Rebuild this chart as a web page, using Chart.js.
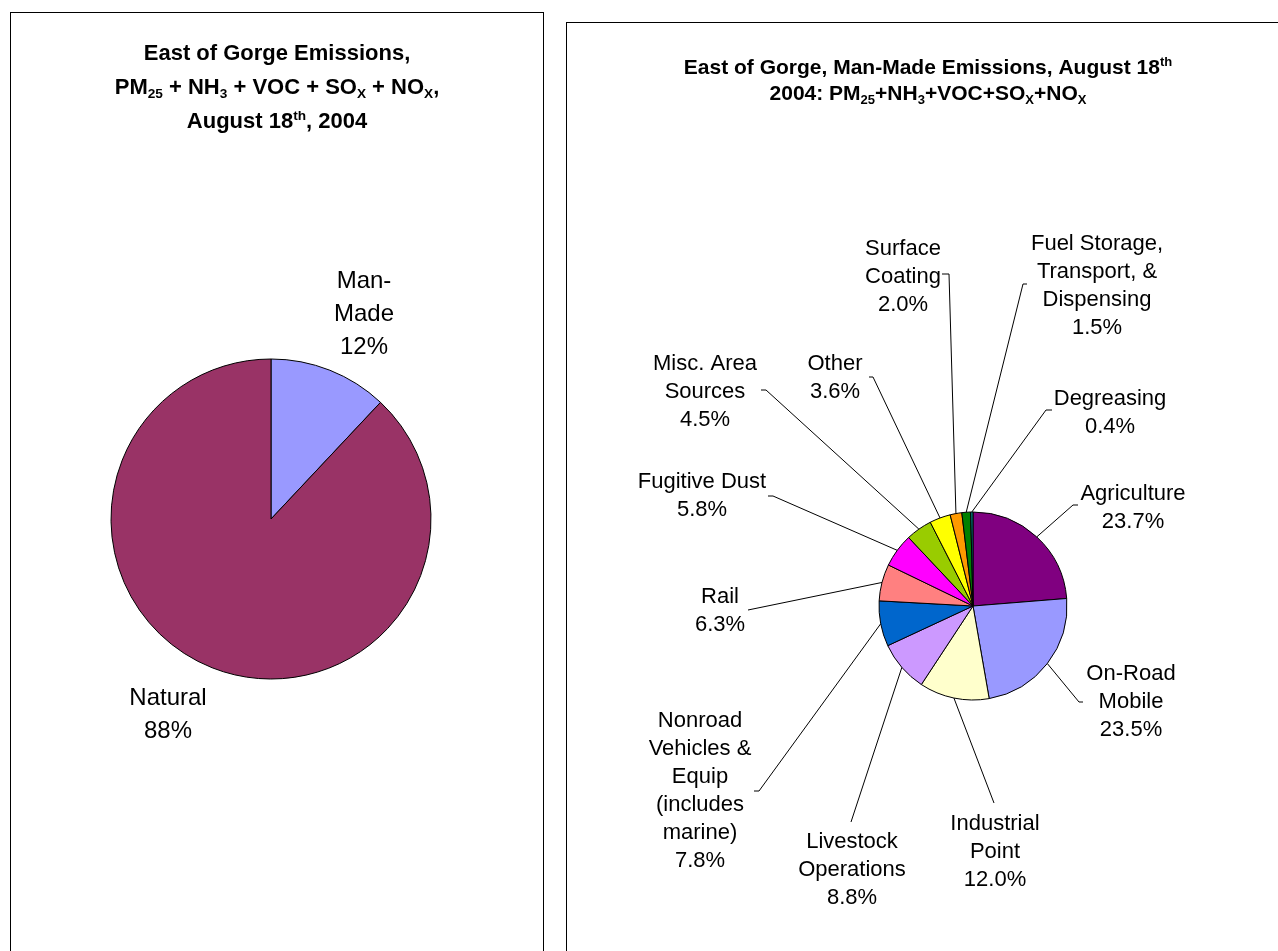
<!DOCTYPE html>
<html lang="en">
<head>
<meta charset="UTF-8">
<title>East of Gorge Emissions, August 18th 2004</title>
<style>
  body { margin: 0; background: #fff; overflow: hidden; }
  .panel { position: absolute; border: 1px solid #000; background: #fff; }
  #leftPanel { left: 10px; top: 12px; width: 532px; height: 960px; }
  #rightPanel { left: 566px; top: 22px; width: 740px; height: 960px; }
  canvas { position: absolute; left: 0; top: 0; }
</style>
</head>
<body>
<div class="panel" id="leftPanel"><canvas id="leftChart" width="532" height="940"></canvas></div>
<div class="panel" id="rightPanel"><canvas id="rightChart" width="711" height="930"></canvas></div>

<script src="https://cdn.jsdelivr.net/npm/chart.js"></script>
<script>
// ---- data ----
const totalCategories = [['Man-', 'Made'], ['Natural']];
const totalShares = [12, 88];
const totalColors = ['#9999FF', '#993366'];

const manMadeCategories = [
  ['Agriculture'],
  ['On-Road', 'Mobile'],
  ['Industrial', 'Point'],
  ['Livestock', 'Operations'],
  ['Nonroad', 'Vehicles &', 'Equip', '(includes', 'marine)'],
  ['Rail'],
  ['Fugitive Dust'],
  ['Misc. Area', 'Sources'],
  ['Other'],
  ['Surface', 'Coating'],
  ['Fuel Storage,', 'Transport, &', 'Dispensing'],
  ['Degreasing']
];
const manMadeShares = [23.7, 23.5, 12.0, 8.8, 7.8, 6.3, 5.8, 4.5, 3.6, 2.0, 1.5, 0.4];
const manMadeColors = ['#800080', '#9999FF', '#FFFFCC', '#CC99FF', '#0066CC', '#FF8080',
                       '#FF00FF', '#99CC00', '#FFFF00', '#FF9900', '#008000', '#008080'];

// titles: [text, 'sub' | 'sup']
const leftTitle = [
  [['East of Gorge Emissions,']],
  [['PM'], ['25', 'sub'], [' + NH'], ['3', 'sub'], [' + VOC + SO'], ['X', 'sub'], [' + NO'], ['X', 'sub'], [',']],
  [['August 18'], ['th', 'sup'], [', 2004']]
];
const rightTitle = [
  [['East of Gorge, Man-Made Emissions, August 18'], ['th', 'sup']],
  [['2004: PM'], ['25', 'sub'], ['+NH'], ['3', 'sub'], ['+VOC+SO'], ['X', 'sub'], ['+NO'], ['X', 'sub']]
];

// ---- layout (page coordinates) ----
const FONT = '"Liberation Sans", Arial, sans-serif';

const leftLayout = {
  offset: { x: 11, y: 13 },
  center: { x: 271, y: 519 }, radius: 160,
  title: { x: 277, y: [60, 94, 128], size: 22 },
  labelSize: 24, lineHeight: 33,
  labels: [
    { x: 364, y: 288 },
    { x: 168, y: 705 }
  ],
  fmt: v => v + '%'
};

const rightLayout = {
  offset: { x: 567, y: 23 },
  center: { x: 973, y: 606 }, radius: 94,
  title: { x: 928, y: [74, 100], size: 21 },
  labelSize: 22, lineHeight: 28,
  labels: [
    { x: 1133, y: 500, lead: [1078, 505, 1073] },
    { x: 1131, y: 680, lead: [1083, 702, 1079] },
    { x: 995, y: 830, lead: [994, 803, 994] },
    { x: 852, y: 848, lead: [851, 822, 851] },
    { x: 700, y: 727, lead: [754, 791, 759] },
    { x: 720, y: 603, lead: [748, 610, 748] },
    { x: 702, y: 488, lead: [768, 496, 773] },
    { x: 705, y: 370, lead: [761, 390, 766] },
    { x: 835, y: 370, lead: [869, 377, 873] },
    { x: 903, y: 255, lead: [942, 274, 949] },
    { x: 1097, y: 250, lead: [1027, 284, 1023] },
    { x: 1110, y: 405, lead: [1052, 410, 1046] }
  ],
  fmt: v => v.toFixed(1) + '%'
};

function richWidth(ctx, segs, size) {
  let w = 0;
  segs.forEach(s => {
    ctx.font = 'bold ' + (s[1] ? size * 0.62 : size) + 'px ' + FONT;
    w += ctx.measureText(s[0]).width;
  });
  return w;
}

function drawRich(ctx, segs, cx, y, size) {
  let x = cx - richWidth(ctx, segs, size) / 2;
  ctx.textAlign = 'left';
  segs.forEach(s => {
    const small = !!s[1];
    ctx.font = 'bold ' + (small ? size * 0.62 : size) + 'px ' + FONT;
    const dy = s[1] === 'sub' ? size * 0.2 : s[1] === 'sup' ? -size * 0.38 : 0;
    ctx.fillText(s[0], x, y + dy);
    x += ctx.measureText(s[0]).width;
  });
}

function makeLabels(layout, title) {
  return {
    id: 'sliceLabels',
    afterDraw(chart) {
      const ctx = chart.ctx;
      const ox = layout.offset.x, oy = layout.offset.y;
      ctx.save();
      ctx.fillStyle = '#000';
      ctx.textBaseline = 'alphabetic';
      title.forEach((line, i) => drawRich(ctx, line, layout.title.x - ox, layout.title.y[i] - oy, layout.title.size));

      const meta = chart.getDatasetMeta(0);
      const values = chart.data.datasets[0].data;
      meta.data.forEach((arc, i) => {
        const L = layout.labels[i];
        const p = arc.getProps(['x', 'y', 'startAngle', 'endAngle', 'outerRadius'], true);
        const mid = (p.startAngle + p.endAngle) / 2;
        if (L.lead) {
          const ex = p.x + Math.cos(mid) * p.outerRadius;
          const ey = p.y + Math.sin(mid) * p.outerRadius;
          ctx.strokeStyle = '#000';
          ctx.lineWidth = 1;
          ctx.beginPath();
          ctx.moveTo(L.lead[0] - ox, L.lead[1] - oy);
          ctx.lineTo(L.lead[2] - ox, L.lead[1] - oy);
          ctx.lineTo(ex, ey);
          ctx.stroke();
        }
        ctx.font = layout.labelSize + 'px ' + FONT;
        ctx.textAlign = 'center';
        const lines = [].concat(chart.data.labels[i], layout.fmt(values[i]));
        lines.forEach((t, k) => ctx.fillText(t, L.x - ox, L.y - oy + k * layout.lineHeight));
      });
      ctx.restore();
    }
  };
}

function pieChart(id, labels, values, colors, layout, title) {
  const canvas = document.getElementById(id);
  const w = canvas.width, h = canvas.height;
  const cx = layout.center.x - layout.offset.x, cy = layout.center.y - layout.offset.y;
  const r = layout.radius;
  return new Chart(canvas, {
    type: 'pie',
    data: {
      labels: labels,
      datasets: [{
        data: values,
        backgroundColor: colors,
        borderColor: '#000',
        borderWidth: 1,
        radius: r
      }]
    },
    options: {
      responsive: false,
      animation: false,
      layout: { padding: { left: cx - r, right: w - cx - r, top: cy - r, bottom: h - cy - r } },
      plugins: { legend: { display: false }, tooltip: { enabled: false } }
    },
    plugins: [makeLabels(layout, title)]
  });
}

pieChart('leftChart', totalCategories, totalShares, totalColors, leftLayout, leftTitle);
pieChart('rightChart', manMadeCategories, manMadeShares, manMadeColors, rightLayout, rightTitle);
</script>
</body>
</html>
